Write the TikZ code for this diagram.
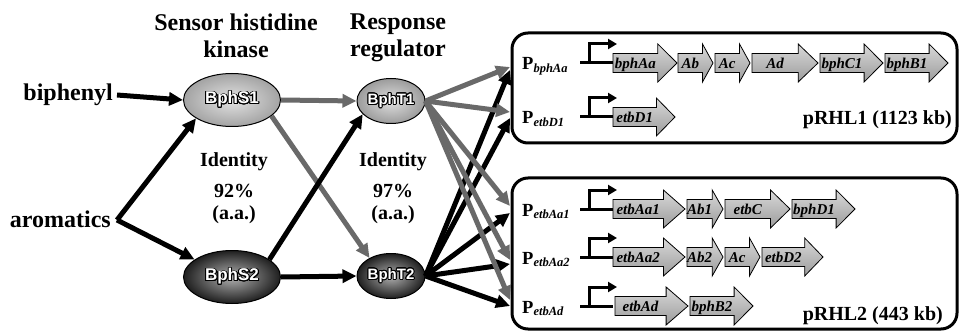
\documentclass[tikz,border=0pt]{standalone}
\usepackage{fontspec}
\setmainfont{Liberation Serif}
\newfontfamily\sansb{Liberation Sans}[BoldFont={Liberation Sans Bold}]
\usepackage[copies]{contour}
\contourlength{0.9pt}
\contournumber{20}
\usetikzlibrary{arrows.meta,shapes.geometric,calc}
\definecolor{arrgray}{RGB}{105,105,105}
\tikzset{
  protlight/.style={ellipse,draw=black,line width=1pt,inner color=gray!22,outer color=gray!72,inner sep=0pt},
  protdark/.style={ellipse,draw=black,line width=1pt,inner color=gray!62,outer color=black!88,inner sep=0pt},
  sbox/.style={minimum width=97pt,minimum height=53pt},
  tbox/.style={minimum width=68pt,minimum height=45pt},
  blk/.style={line width=5pt,black,-{Triangle[length=14pt,width=13pt]}},
  gry/.style={line width=5pt,arrgray,-{Triangle[length=14pt,width=13pt]}},
  title/.style={font=\fontsize{24}{28}\selectfont\bfseries,anchor=base,inner sep=0pt},
  ident/.style={font=\fontsize{20}{24}\selectfont\bfseries,anchor=base,inner sep=0pt},
  plas/.style={draw=black,line width=3pt,rounded corners=16pt},
  plab/.style={font=\fontsize{20}{23}\selectfont\bfseries,anchor=base east,inner sep=0pt},
  prom/.style={font=\fontsize{18.5}{21}\selectfont\bfseries,anchor=base west,inner sep=0pt},
  genelab/.style={font=\fontsize{15}{17}\selectfont\bfseries\itshape,anchor=base,inner sep=0pt},
  genebody/.style={draw=black,line width=0.8pt,top color=gray!30,bottom color=gray!78},
  promline/.style={line width=3pt,black},
}
\newcommand{\protlab}[1]{\contour{black}{\textcolor{white}{\sansb\bfseries #1}}}
% gene: name, x1, x2, row y, label
\newcommand{\gene}[5]{%
  \pgfmathsetmacro{\hl}{max(10,min(24,0.3*(#3-#2)))}%
  \pgfmathsetmacro{\hs}{#3-\hl}%
  \pgfmathsetmacro{\mx}{(#2+\hs)/2}%
  \pgfmathsetmacro{\ya}{#4-9.5}\pgfmathsetmacro{\yb}{#4+9.5}%
  \pgfmathsetmacro{\yc}{#4-19}\pgfmathsetmacro{\yd}{#4+19}%
  \draw[genebody] (#2,\ya) -- (\hs,\ya) -- (\hs,\yc) -- (#3,#4) -- (\hs,\yd) -- (\hs,\yb) -- (#2,\yb) -- cycle;
  \node[genelab] (#1) at (\mx,#4+5.5) {#5};%
}
% promoter: label name, row y, subscript
\newcommand{\promoter}[3]{%
  \node[prom] (#1) at (522,#2+7) {P\raisebox{-2.5pt}{\fontsize{12.5}{14}\selectfont\itshape #3}};
  \draw[promline] (580,#2) -- (613,#2);
  \draw[promline,-{Triangle[length=9pt,width=10pt]}] (589,#2) -- (589,#2-19) -- (617,#2-19);%
}
\begin{document}
\begin{tikzpicture}[x=1pt,y=-1pt]
\useasboundingbox (0,0) rectangle (960,331);
\fill[white] (0,0) rectangle (960,331);

% titles
\node[title] (t1a) at (236,31) {Sensor histidine};
\node[title] (t1b) at (236,58) {kinase};
\node[title] (t2a) at (398,30) {Response};
\node[title] (t2b) at (398,57) {regulator};

% identity
\node[ident] (i1a) at (234,167) {Identity};
\node[ident] (i1b) at (234,197) {92\%};
\node[ident] (i1c) at (234,219) {(a.a.)};
\node[ident] (i2a) at (393,167) {Identity};
\node[ident] (i2b) at (393,197) {97\%};
\node[ident] (i2c) at (393,219) {(a.a.)};

% inputs
\node[title,anchor=base east] (biph) at (113,101) {biphenyl};
\node[title,anchor=base east] (arom) at (111,227) {aromatics};

% proteins
\node[protlight,sbox] (S1) at (232,100) {\fontsize{17}{19}\selectfont\protlab{BphS1}};
\node[protdark,sbox] (S2) at (232,277) {\fontsize{17}{19}\selectfont\protlab{BphS2}};
\node[protlight,tbox,inner color=gray!25,outer color=gray!78] (T1) at (391,101) {\fontsize{15}{17}\selectfont\protlab{BphT1}};
\node[protdark,tbox] (T2) at (391,276) {\fontsize{15}{17}\selectfont\protlab{BphT2}};

% input arrows
\coordinate (av) at (117,220);
\coordinate (bs) at (117,95);
\draw[blk] (bs) -- (S1.west);
\draw[blk] (av) -- (S1.207);
\draw[blk] (av) -- (S2.155);

% S -> T arrows
\draw[gry] (S1.east) -- (T1.west);
\draw[gry] (S1.-22) -- (T2.140);
\draw[blk] (S2.25) -- (T1.205);
\draw[blk] (S2.east) -- (T2.west);

% plasmid boxes
\draw[plas] (512,33) rectangle (957,143);
\draw[plas] (512,178) rectangle (957,329);
\node[plab] (p1) at (952,125) {pRHL1 (1123 kb)};
\node[plab] (p2) at (943,320) {pRHL2 (443 kb)};

% targets
\coordinate (gA) at (510,67);
\coordinate (gB) at (510,112);
\coordinate (gC) at (510,206);
\coordinate (gD) at (510,260);
\coordinate (gE) at (510,300);
\coordinate (bA) at (510,70);
\coordinate (bB) at (510,118);
\coordinate (bC) at (510,213);
\coordinate (bD) at (510,264);
\coordinate (bE) at (510,306);

% T2 -> promoters (black)
\foreach \t in {bA,bB,bC,bD,bE} \draw[blk] (T2.east) -- (\t);
% T1 -> promoters (gray)
\foreach \t in {gA,gB,gC,gD,gE} \draw[gry] (T1.east) -- (\t);

% promoters
\promoter{PA}{63}{bphAa}
\promoter{PB}{117}{etbD1}
\promoter{PC}{209}{etbAa1}
\promoter{PD}{257}{etbAa2}
\promoter{PE}{306}{etbAd}

% genes row 1
\gene{g1}{613}{677}{63}{bphAa}
\gene{g2}{678}{713}{63}{Ab}
\gene{g3}{715}{750}{63}{Ac}
\gene{g4}{752}{818}{63}{Ad}
\gene{g5}{820}{883}{63}{bphC1}
\gene{g6}{885}{948}{63}{bphB1}
% row 2
\gene{g7}{613}{675}{117}{etbD1}
% row 3
\gene{g8}{613}{685}{209}{etbAa1}
\gene{g9}{687}{723}{209}{Ab1}
\gene{g10}{725}{790}{209}{etbC}
\gene{g11}{792}{855}{209}{bphD1}
% row 4
\gene{g12}{613}{685}{257}{etbAa2}
\gene{g13}{687}{723}{257}{Ab2}
\gene{g14}{725}{760}{257}{Ac}
\gene{g15}{762}{823}{257}{etbD2}
% row 5
\gene{g16}{615}{688}{306}{etbAd}
\gene{g17}{690}{753}{306}{bphB2}
\end{tikzpicture}
\end{document}
